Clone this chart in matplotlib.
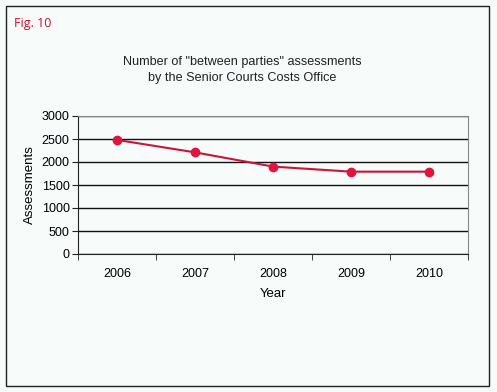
import matplotlib.pyplot as plt
from matplotlib.patches import Rectangle

plt.rcParams['font.family'] = ['Liberation Sans', 'DejaVu Sans']

years = ['2006', '2007', '2008', '2009', '2010']
assessments = [2480, 2210, 1900, 1790, 1790]
yticks = [0, 500, 1000, 1500, 2000, 2500, 3000]

bg = '#f7fbf9'
fig = plt.figure(figsize=(4.97, 3.92), dpi=100, facecolor=bg)
W, H = 497, 392

# outer frame
fig.patches.append(Rectangle((6 / W, 1 - 386 / H), 483 / W, 380 / H,
                             transform=fig.transFigure, fill=False,
                             edgecolor='#222222', linewidth=1.0))

fig.text(14 / W, 1 - 23 / H, 'Fig. 10', color='#c8102e', fontsize=9,
         va='center', ha='left', family=['Open Sans', 'DejaVu Sans'])
fig.text(242 / W, 1 - 70 / H,
         'Number of "between parties" assessments\nby the Senior Courts Costs Office',
         ha='center', va='center', fontsize=9.1, color='#222222',
         linespacing=1.4)

ax = fig.add_axes([78 / W, 1 - 254 / H, 390 / W, 138 / H])
ax.set_facecolor(bg)
x = range(len(years))
ax.plot(x, assessments, color='#c8153a', linewidth=1.5, marker='o',
        markersize=6, markerfacecolor='#e0143c', markeredgecolor='#e0143c')

ax.set_xlim(-0.5, len(years) - 0.5)
ax.set_ylim(0, 3000)
ax.set_yticks(yticks)
ax.set_xticks(list(x))
ax.set_xticklabels(years)
ax.set_xticks([i + 0.5 for i in range(-1, len(years))], minor=True)
ax.tick_params(axis='x', which='major', length=0, pad=10, labelsize=9)
ax.tick_params(axis='x', which='minor', length=4, direction='out', color='#222222')
ax.tick_params(axis='y', length=4, labelsize=9, pad=2, color='#222222')
ax.grid(axis='y', color='#111111', linewidth=1.0)
ax.set_axisbelow(True)

for s in ['top', 'right']:
    ax.spines[s].set_color('#888888')
for s in ['left', 'bottom']:
    ax.spines[s].set_color('#222222')

ax.set_xlabel('Year', fontsize=9.5, labelpad=6)
ax.set_ylabel('Assessments', fontsize=9.5, labelpad=4)

fig.savefig('out.png', dpi=100, facecolor=bg)
